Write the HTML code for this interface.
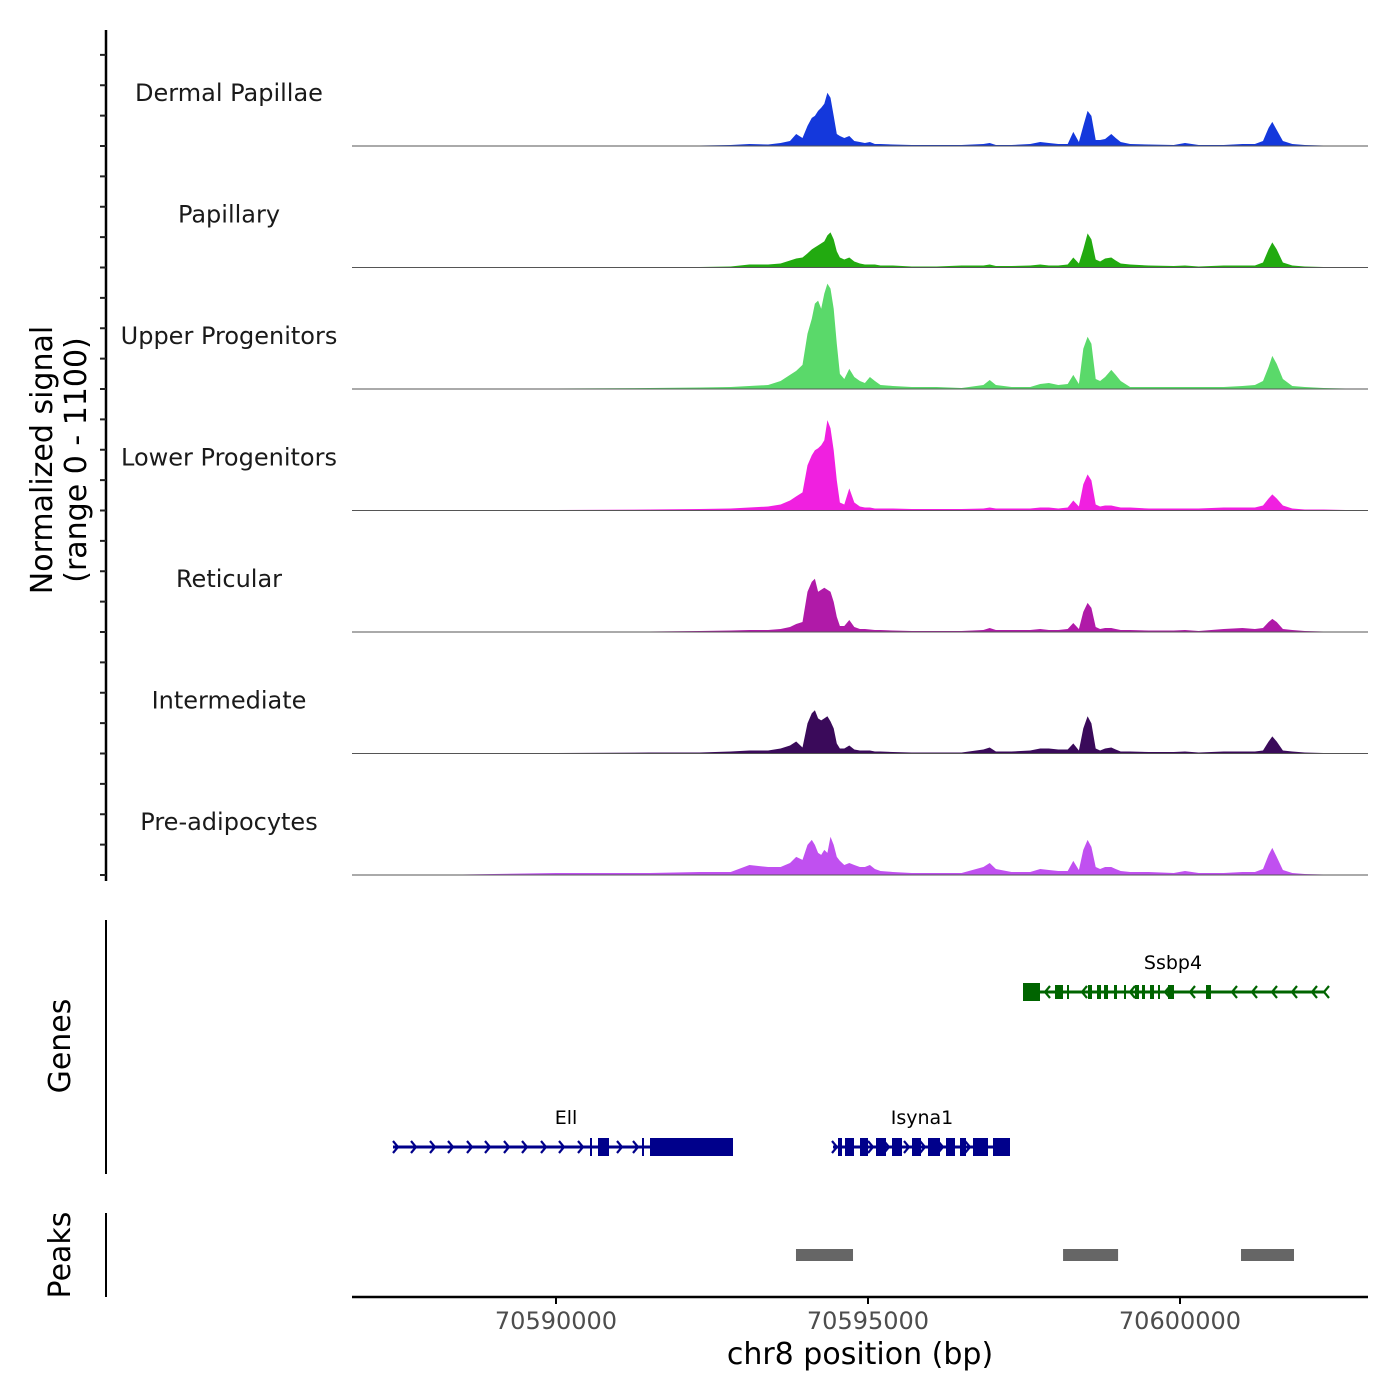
<!DOCTYPE html>
<html><head><meta charset="utf-8"><style>
html,body{margin:0;padding:0;background:#fff}
svg{display:block;font-family:"DejaVu Sans","Liberation Sans",sans-serif}
</style></head><body>
<svg id="chart" width="1400" height="1400" viewBox="0 0 1400 1400" xmlns="http://www.w3.org/2000/svg">
<rect width="1400" height="1400" fill="#fff"/>
<g id="tracks"></g>
<g id="leftaxis"></g>
<text transform="translate(52,460) rotate(-90)" text-anchor="middle" font-size="30" fill="#000">Normalized signal</text>
<text transform="translate(86,460) rotate(-90)" text-anchor="middle" font-size="30" fill="#000">(range 0 - 1100)</text>
<line x1="106" y1="920" x2="106" y2="1174" stroke="#000" stroke-width="2"/>
<text transform="translate(70,1046) rotate(-90)" text-anchor="middle" font-size="30">Genes</text>
<line x1="106" y1="1213" x2="106" y2="1297" stroke="#000" stroke-width="2"/>
<text transform="translate(70,1255) rotate(-90)" text-anchor="middle" font-size="30">Peaks</text>
<g id="genes"></g>
<g id="peaks"></g>
<g id="xaxis"></g>
<text x="860" y="1364" text-anchor="middle" font-size="30">chr8 position (bp)</text>
</svg>
<script>
// ---- data ----
const trackNames = ["Dermal Papillae","Papillary","Upper Progenitors","Lower Progenitors","Reticular","Intermediate","Pre-adipocytes"];
const trackColors = ["#1438dc","#22aa10","#5ad96a","#f020e0","#b01aa8","#3a0a5a","#c050f0"];
const positions = [70586731,70588500,70590000,70591500,70592300,70592800,70593100,70593400,70593600,70593750,70593850,70593950,70594030,70594100,70594150,70594200,70594250,70594300,70594350,70594400,70594450,70594500,70594550,70594620,70594700,70594780,70594870,70594950,70595030,70595110,70595200,70595400,70595700,70596100,70596500,70596850,70596950,70597050,70597300,70597600,70597760,70597900,70598050,70598200,70598290,70598380,70598450,70598520,70598580,70598650,70598720,70598800,70598900,70598970,70599050,70599200,70599500,70599900,70600080,70600300,70600700,70601000,70601200,70601330,70601420,70601480,70601550,70601650,70601800,70602000,70602300,70603013];
// signal values (units of 1/9.1 normalized signal)
const dermalPapillae = [0,0,0,0.5,0.5,1,2,1.5,3,5,12,8,20,28,30,35,38,42,53,48,30,12,10,8,10,5,4,3,4,2,2,1.5,1,1,1,2,3,1,1,2,4,3,2,2,14,4,20,35,30,6,6,7,12,8,4,2,1.5,1,3,1,1,2,2,5,18,24,16,5,2,1,0.5,0.5];
const papillary = [0,0,0,0.5,0.5,1,3,3,4,7,9,10,14,18,20,22,24,26,32,35,28,16,10,8,10,6,4,3,3,3,2,2,1,1,2,2,3,1.5,1.5,2,3,2,2,3,10,4,18,34,28,8,6,9,10,7,4,3,2,1.5,2,1,2,2,2,5,18,25,18,5,2,1,0.5,0];
const upperProgenitors = [0,0.5,0.5,1,1.5,2,3,4,8,14,18,24,55,70,85,88,80,95,105,100,80,45,15,10,20,12,8,6,12,8,4,3,2,2,1,4,9,4,2,2,5,6,4,5,14,5,40,52,45,10,8,12,19,14,8,2,2,2,2,2,2,3,4,8,22,33,25,10,3,2,1,0];
const lowerProgenitors = [0,0.5,0.5,1,1.5,2,3,4,6,10,14,18,45,55,60,62,65,70,90,82,60,30,8,6,22,8,4,3,3,2,2,2,1.5,1.5,1.5,2,3,2,2,2,3,3,2,3,10,4,26,36,30,6,4,5,5,4,3,3,2,2,2,2,3,3,3,5,12,16,12,5,2,1,1,0];
const reticular = [0,0,0.5,0.5,1,1.5,2,2,3,5,8,10,40,50,53,40,42,44,42,40,30,15,6,6,12,5,3,3,2.5,2,2,1.5,1,1,1,2,4,2,2,2,3,2,2,3,9,3,20,29,24,5,3,4,4,3,2,2,1.5,1.5,2,1,3,4,3,4,10,13,10,3,2,1,0.5,0];
const intermediate = [0,0.5,0.5,1,1,2,3,3,5,8,12,6,30,40,43,35,33,35,37,32,25,10,5,5,8,4,3,3,3,2,2,1.5,1,1,1,4,6,2,2,3,5,5,4,4,10,3,25,37,30,5,3,5,6,4,2,2,1.5,1.5,2,1,2,2,2,3,12,17,12,3,2,1,0.5,0];
const preAdipocytes = [0,0.5,2,2,3,3,10,8,8,12,18,15,30,35,30,22,20,25,22,38,30,18,14,10,12,10,8,8,10,6,4,3,2,2,2,8,12,6,3,3,6,5,4,4,14,5,25,35,28,8,6,8,8,6,4,3,3,2,4,2,2,3,3,6,20,27,18,5,2,1,0.5,0];
const trackValues = [dermalPapillae,papillary,upperProgenitors,lowerProgenitors,reticular,intermediate,preAdipocytes];
const xTicks = [70590000,70595000,70600000];
const xTickLabels = ["70590000","70595000","70600000"];
const peakStarts = [70593846,70598126,70600978];
const peakEnds = [70594760,70599008,70601827];

// ---- scales ----
const X0=352, X1=1368, BP0=70586731, BP1=70603013;
function xScale(bp){return X0+(bp-BP0)*(X1-X0)/(BP1-BP0);}
const trackH=121.5, firstBase=146, yMax=121;
function yScale(v,i){return firstBase+i*trackH - v*(trackH)/yMax;}
const NS="http://www.w3.org/2000/svg";
function mk(tag,attrs,parent){const e=document.createElementNS(NS,tag);for(const k in attrs)e.setAttribute(k,attrs[k]);parent.appendChild(e);return e;}

// tracks
const tg=document.getElementById('tracks');
trackValues.forEach((vals,i)=>{
  const base=firstBase+i*trackH;
  let d="M"+xScale(positions[0])+","+base;
  vals.forEach((v,j)=>{d+=" L"+xScale(positions[j]).toFixed(1)+","+yScale(v,i).toFixed(1);});
  d+=" L"+xScale(positions[positions.length-1])+","+base+" Z";
  const p=mk('path',{d:d,fill:trackColors[i]},tg);
  
  
  const l=mk('line',{x1:X0,x2:X1,y1:base,y2:base,stroke:'#555','stroke-width':1},tg);
  
  
  const t=mk('text',{x:229,y:base-45,'text-anchor':'middle','font-size':24,fill:'#1a1a1a'},tg);
  t.textContent=trackNames[i];
  
  
});

// left axis
const la=document.getElementById('leftaxis');
mk('line',{x1:106,y1:30,x2:106,y2:881,stroke:'#000','stroke-width':2.5},la);
for(let k=0;k<=40;k++){
  const y=firstBase+6*trackH - k*trackH/4;
  if(y<30)break;
  const tk=mk('line',{x1:100,x2:106,y1:y,y2:y,stroke:'#222','stroke-width':2},la);
  
  
}

// genes
const gg=document.getElementById('genes');
function gene(name,color,y,x1,x2,exons,dir,labelX,arrows){
  const g=mk('g',{},gg);
  
  
  mk('line',{x1:x1,x2:x2,y1:y,y2:y,stroke:color,'stroke-width':3},g);
  arrows.forEach(ax=>{
    const s=dir>0?-5:5;
    mk('polyline',{points:(ax+s)+","+(y-6)+" "+ax+","+y+" "+(ax+s)+","+(y+6),fill:'none',stroke:color,'stroke-width':2.2},g);
  });
  exons.forEach(e=>{const h=e[2]||16;mk('rect',{x:e[0],y:y-h/2,width:Math.max(2,e[1]-e[0]),height:h,fill:color},g);});
  const t=mk('text',{x:labelX,y:y-23,'text-anchor':'middle','font-size':19,fill:'#000'},g);
  t.textContent=name;
}
gene("Ssbp4","#006400",992,1025,1325,[[1023,1040,18],[1055,1063,14],[1067,1069,14],[1088,1092,14],[1097,1101,14],[1104,1108,14],[1114,1117,14],[1124,1126,14],[1135,1139,14],[1142,1145,14],[1150,1154,14],[1158,1160,14],[1168,1174,14],[1206,1211,14]],-1,1173,[1045,1082,1130,1165,1190,1232,1252,1272,1292,1312,1324]);
gene("Ell","#00008b",1147,393,733,[[590,592,18],[598,609,18],[642,644,18],[650,733,18]],1,566,[398,416,435,453,472,490,509,527,546,564,583,622,638]);
gene("Isyna1","#00008b",1147,833,1010,[[838,842,18],[845,854,18],[860,868,18],[876,886,18],[892,902,18],[912,921,18],[928,940,18],[946,955,18],[960,966,18],[973,988,18],[993,1010,18]],1,922,[837,873,889,909,925,943,970]);

// peaks
const pg=document.getElementById('peaks');
peakStarts.forEach((s,i)=>{
  const r=mk('rect',{x:xScale(s),y:1249,width:xScale(peakEnds[i])-xScale(s),height:12,fill:'#666'},pg);
  
  
});

// x axis
const xa=document.getElementById('xaxis');
mk('line',{x1:X0,x2:X1,y1:1297,y2:1297,stroke:'#000','stroke-width':2.5},xa);
xTicks.forEach((bp,i)=>{
  const x=xScale(bp);
  const tk=mk('line',{x1:x,x2:x,y1:1297,y2:1304,stroke:'#000','stroke-width':2},xa);
  
  
  const t=mk('text',{x:x,y:1329,'text-anchor':'middle','font-size':24,fill:'#4d4d4d'},xa);
  t.textContent=xTickLabels[i];
  
  
});
</script>
</body></html>
